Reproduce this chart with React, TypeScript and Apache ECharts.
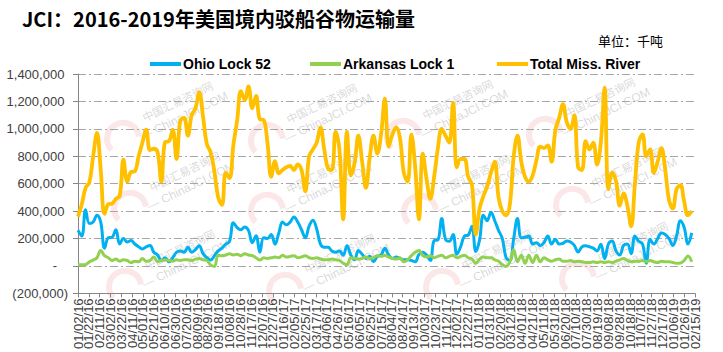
import React, { useEffect, useRef } from 'react';
import * as echarts from 'echarts';

const titleText = 'JCI：2016-2019年美国境内驳船谷物运输量';
const unitText = '单位：千吨';
const seriesNames = ['Ohio Lock 52', 'Arkansas Lock 1', 'Total Miss. River'];
const seriesColors = ['#00B0F0', '#92D050', '#FFC000'];

// x tick labels, every 20 days starting 01/02/16
const tickLabels = ['01/02/16','01/22/16','02/11/16','03/02/16','03/22/16','04/11/16','05/01/16','05/21/16','06/10/16','06/30/16','07/20/16','08/09/16','08/29/16','09/18/16','10/08/16','10/28/16','11/17/16','12/07/16','12/27/16','01/16/17','02/05/17','02/25/17','03/17/17','04/06/17','04/26/17','05/16/17','06/05/17','06/25/17','07/15/17','08/04/17','08/24/17','09/13/17','10/03/17','10/23/17','11/12/17','12/02/17','12/22/17','01/11/18','01/31/18','02/20/18','03/12/18','04/01/18','04/21/18','05/11/18','05/31/18','06/20/18','07/10/18','07/30/18','08/19/18','09/08/18','09/28/18','10/18/18','11/07/18','11/27/18','12/17/18','01/06/19','01/26/19','02/15/19'];

// weekly observations (days since 01/02/16 = week index * 7)
const ohioLock52 = [260000,218000,410000,310000,320000,370000,320000,130000,206000,210000,264000,160000,200000,175000,185000,160000,140000,124000,140000,150000,100000,80000,40000,60000,30000,60000,100000,110000,100000,136000,100000,120000,148000,90000,60000,43000,75000,110000,130000,160000,180000,316000,280000,264000,285000,260000,170000,220000,101000,206000,200000,229000,159000,240000,320000,300000,320000,357000,320000,264000,206000,290000,334000,270000,159000,136000,136000,110000,100000,110000,78000,148000,80000,45000,113000,85000,55000,70000,30000,70000,80000,129000,80000,55000,65000,55000,45000,45000,40000,30000,85000,100000,80000,40000,185000,190000,346000,194000,180000,229000,85000,140000,218000,225000,290000,105000,190000,370000,330000,392000,330000,260000,200000,60000,40000,200000,346000,206000,210000,218000,160000,170000,148000,170000,218000,160000,194000,160000,165000,183000,175000,150000,101000,140000,148000,140000,130000,110000,159000,54000,160000,183000,110000,80000,150000,160000,90000,218000,180000,160000,20000,194000,160000,200000,241000,230000,200000,150000,220000,330000,280000,160000,241000];
const arkansasLock1 = [8000,8000,10000,30000,43000,60000,113000,75000,60000,40000,50000,35000,45000,40000,25000,35000,30000,54000,35000,40000,66000,30000,40000,45000,40000,35000,45000,40000,45000,45000,40000,50000,54000,45000,40000,8000,-3000,78000,75000,80000,89000,80000,85000,75000,89000,80000,75000,60000,43000,60000,55000,60000,65000,60000,78000,65000,70000,75000,60000,65000,75000,60000,55000,60000,50000,45000,45000,50000,45000,40000,20000,8000,60000,54000,50000,55000,66000,55000,60000,75000,70000,78000,65000,55000,50000,60000,31000,45000,75000,100000,113000,75000,65000,75000,60000,70000,78000,60000,70000,78000,60000,70000,78000,60000,50000,20000,50000,65000,60000,60000,45000,35000,10000,-3000,30000,120000,31000,78000,20000,78000,25000,78000,30000,60000,45000,35000,45000,50000,35000,35000,40000,31000,35000,31000,25000,25000,30000,25000,31000,25000,31000,25000,35000,45000,54000,40000,31000,35000,33000,40000,31000,40000,30000,25000,35000,30000,31000,25000,20000,22000,40000,73000,30000];
const totalMissRiver = [360000,450000,570000,610000,800000,970000,700000,380000,450000,455000,490000,510000,775000,615000,685000,690000,800000,900000,995000,845000,855000,830000,615000,905000,910000,995000,780000,1060000,1080000,950000,1100000,1150000,1265000,1090000,890000,830000,690000,500000,445000,680000,640000,880000,1060000,1275000,1210000,1310000,1150000,1240000,1070000,1065000,900000,650000,765000,675000,700000,720000,730000,700000,740000,700000,545000,800000,850000,900000,1010000,850000,710000,700000,980000,850000,340000,980000,660000,750000,950000,760000,570000,790000,950000,820000,960000,1220000,870000,960000,1010000,930000,680000,615000,960000,720000,340000,820000,635000,490000,650000,860000,1000000,950000,900000,1190000,720000,780000,780000,650000,590000,230000,420000,510000,580000,680000,760000,500000,400000,370000,450000,800000,950000,760000,650000,615000,660000,770000,870000,860000,880000,760000,990000,1080000,1180000,1050000,1000000,1100000,720000,700000,910000,850000,900000,740000,900000,1300000,560000,680000,620000,440000,530000,440000,290000,600000,900000,960000,800000,850000,680000,760000,860000,700000,480000,420000,560000,590000,470000,370000,400000];

const DAYS_PER_OBS = 7;
const TICK_DAYS = 20;

const watermarkSpots = [
  [178, 110], [322, 112], [458, 108], [600, 106],
  [185, 180], [322, 182], [475, 183], [627, 176],
  [180, 258], [340, 262], [497, 258], [633, 250],
];

function toPairs(arr: number[]) {
  return arr.map((v, i) => [i * DAYS_PER_OBS, v]);
}

function fmtY(v: number) {
  if (v === 0) return '-\u00a0\u00a0\u00a0';
  const s = Math.abs(v).toLocaleString('en-US');
  return v < 0 ? '(' + s + ')' : s + '\u00a0';
}

export default function App() {
  const ref = useRef<HTMLDivElement>(null);
  useEffect(() => {
    document.body.style.margin = '0';
    const chart = echarts.init(ref.current!, null, { renderer: 'svg' });
    const data = [ohioLock52, arkansasLock1, totalMissRiver];
    const legendLefts = [145, 305, 492];
    const wm: any[] = watermarkSpots.map(([x, y]) => ({
      type: 'group',
      x,
      y,
      rotation: 0.45,
      z: 0,
      silent: true,
      children: [
        { type: 'arc', shape: { cx: -62, cy: 2, r: 16, startAngle: Math.PI * 0.9, endAngle: Math.PI * 2.1 }, style: { stroke: 'rgba(235,120,120,0.18)', lineWidth: 6, fill: 'none' } },
        { type: 'text', x: -35, y: -14, style: { text: '中国汇易咨询网', fontSize: 11, fill: 'rgba(150,150,150,0.38)', fontFamily: 'Noto Sans CJK SC' } },
        { type: 'text', x: -45, y: 2, style: { text: '— ChinaJCI.COM', fontSize: 12, fill: 'rgba(150,150,150,0.38)', fontFamily: 'Liberation Sans' } },
      ],
    }));
    const option: any = {
      animation: false,
      backgroundColor: '#ffffff',
      textStyle: { fontFamily: 'Liberation Sans' },
      grid: { left: 78, right: 28, top: 74, bottom: 48, containLabel: false },
      legend: seriesNames.map((n, i) => ({
        data: [n],
        left: legendLefts[i],
        top: 52,
        icon: 'rect',
        itemWidth: 31,
        itemHeight: 4,
        itemGap: 0,
        textStyle: { fontSize: 14, fontWeight: 'bold', color: '#000', fontFamily: 'Liberation Sans', padding: [0, 0, 0, -3] },
      })),
      xAxis: [
        {
          type: 'value',
          show: false,
          min: 0,
          max: TICK_DAYS * (tickLabels.length - 1),
          interval: TICK_DAYS,
          splitLine: { show: false },
        },
        {
          type: 'category',
          data: tickLabels,
          boundaryGap: false,
          position: 'bottom',
          axisLine: { onZero: true, lineStyle: { color: '#868686', width: 1 } },
          axisTick: { show: true, interval: 0, length: 4, lineStyle: { color: '#868686' } },
          splitLine: { show: false },
          axisLabel: {
            interval: 0,
            rotate: 90,
            margin: 5,
            fontSize: 13,
            color: '#404040',
            fontFamily: 'Liberation Sans',
          },
        },
      ],
      yAxis: {
        type: 'value',
        min: -200000,
        max: 1400000,
        interval: 200000,
        axisLine: { show: true, lineStyle: { color: '#868686', width: 1 } },
        axisTick: { show: true, length: 5, lineStyle: { color: '#868686' } },
        splitLine: {
          show: true,
          showMinLine: false,
          lineStyle: { color: '#A6A6A6', width: 1, type: [8, 3, 2, 3] },
        },
        axisLabel: {
          fontSize: 13,
          color: '#404040',
          margin: 10,
          fontFamily: 'Liberation Sans',
          formatter: fmtY,
        },
      },
      graphic: [
        ...wm,
        { type: 'text', left: 22, top: 8, z: 10, style: { text: titleText, fontSize: 20, fontWeight: 'bold', fill: '#000', fontFamily: 'Noto Sans CJK SC' } },
        { type: 'text', left: 598, top: 34, z: 10, style: { text: unitText, fontSize: 13, fill: '#000', fontFamily: 'Noto Sans CJK SC' } },
      ],
      series: seriesNames.map((n, i) => ({
        name: n,
        type: 'line',
        xAxisIndex: 0,
        data: toPairs(data[i]),
        showSymbol: false,
        symbol: 'none',
        smooth: 0.4,
        z: 3 + i,
        itemStyle: { color: seriesColors[i] },
        lineStyle: { color: seriesColors[i], width: i === 2 ? 3.8 : 3 },
      })),
    };
    chart.setOption(option);
    return () => chart.dispose();
  }, []);
  return <div ref={ref} style={{ width: 723, height: 352 }} />;
}
